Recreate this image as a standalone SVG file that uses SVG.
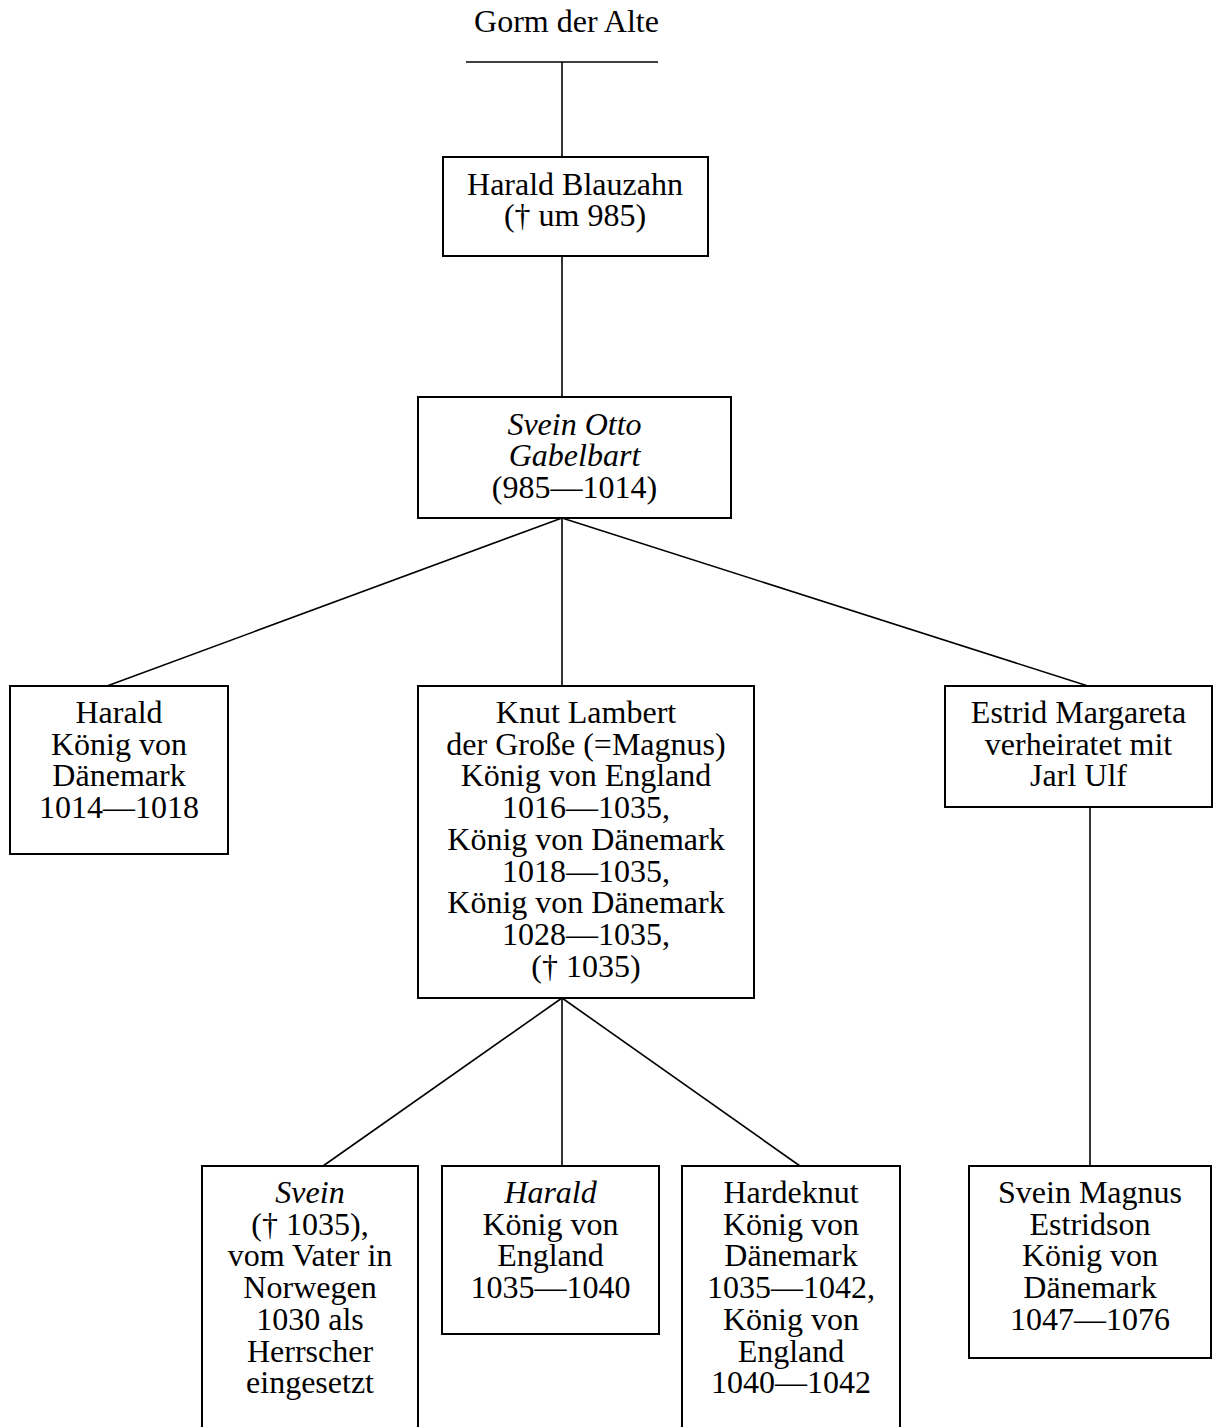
<svg xmlns="http://www.w3.org/2000/svg" width="1214" height="1427" viewBox="0 0 1214 1427">
<style>
text{font-family:"Liberation Serif","Times New Roman",serif;font-size:32px;fill:#000;text-anchor:middle}
.i{font-style:italic}
rect{fill:#fff;stroke:#000;stroke-width:2}
#connectors line{stroke:#000;stroke-width:1.6}
</style>
<rect x="0" y="0" width="1214" height="1427" style="stroke:none;fill:#fff"/>
<g id="connectors">
<line x1="466" y1="62" x2="658" y2="62"/>
<line x1="562" y1="62" x2="562" y2="157"/>
<line x1="562" y1="256" x2="562" y2="397"/>
<line x1="562" y1="518" x2="107" y2="686"/>
<line x1="562" y1="518" x2="562" y2="686"/>
<line x1="562" y1="518" x2="1088" y2="686"/>
<line x1="562" y1="998" x2="323" y2="1166"/>
<line x1="562" y1="998" x2="562" y2="1166"/>
<line x1="562" y1="998" x2="800" y2="1166"/>
<line x1="1090" y1="807" x2="1090" y2="1166"/>
</g>
<g id="gorm">
<text x="566.5" y="32">Gorm der Alte</text>
</g>
<g id="harald-blauzahn">
<rect x="443" y="157" width="265" height="99"/>
<text x="575" y="194.5">Harald Blauzahn</text>
<text x="575" y="226.2">(† um 985)</text>
</g>
<g id="svein-otto">
<rect x="418" y="397" width="313" height="121"/>
<text class="i" x="574.5" y="434.5">Svein Otto</text>
<text class="i" x="574.5" y="466.2">Gabelbart</text>
<text x="574.5" y="497.9">(985—1014)</text>
</g>
<g id="harald">
<rect x="10" y="686" width="218" height="168"/>
<text x="119" y="723">Harald</text>
<text x="119" y="754.7">König von</text>
<text x="119" y="786.4">Dänemark</text>
<text x="119" y="818.1">1014—1018</text>
</g>
<g id="knut">
<rect x="418" y="686" width="336" height="312"/>
<text x="586" y="723">Knut Lambert</text>
<text x="586" y="754.7">der Große (=Magnus)</text>
<text x="586" y="786.4">König von England</text>
<text x="586" y="818.1">1016—1035,</text>
<text x="586" y="849.8">König von Dänemark</text>
<text x="586" y="881.5">1018—1035,</text>
<text x="586" y="913.2">König von Dänemark</text>
<text x="586" y="944.9">1028—1035,</text>
<text x="586" y="976.6">(† 1035)</text>
</g>
<g id="estrid">
<rect x="945" y="686" width="267" height="121"/>
<text x="1078.5" y="723">Estrid Margareta</text>
<text x="1078.5" y="754.7">verheiratet mit</text>
<text x="1078.5" y="786.4">Jarl Ulf</text>
</g>
<g id="svein">
<rect x="202" y="1166" width="216" height="280"/>
<text class="i" x="310" y="1203">Svein</text>
<text x="310" y="1234.7">(† 1035),</text>
<text x="310" y="1266.4">vom Vater in</text>
<text x="310" y="1298.1">Norwegen</text>
<text x="310" y="1329.8">1030 als</text>
<text x="310" y="1361.5">Herrscher</text>
<text x="310" y="1393.2">eingesetzt</text>
</g>
<g id="harald-england">
<rect x="442" y="1166" width="217" height="168"/>
<text class="i" x="550.5" y="1203">Harald</text>
<text x="550.5" y="1234.7">König von</text>
<text x="550.5" y="1266.4">England</text>
<text x="550.5" y="1298.1">1035—1040</text>
</g>
<g id="hardeknut">
<rect x="682" y="1166" width="218" height="280"/>
<text x="791" y="1203">Hardeknut</text>
<text x="791" y="1234.7">König von</text>
<text x="791" y="1266.4">Dänemark</text>
<text x="791" y="1298.1">1035—1042,</text>
<text x="791" y="1329.8">König von</text>
<text x="791" y="1361.5">England</text>
<text x="791" y="1393.2">1040—1042</text>
</g>
<g id="svein-magnus">
<rect x="969" y="1166" width="242" height="192"/>
<text x="1090" y="1203">Svein Magnus</text>
<text x="1090" y="1234.7">Estridson</text>
<text x="1090" y="1266.4">König von</text>
<text x="1090" y="1298.1">Dänemark</text>
<text x="1090" y="1329.8">1047—1076</text>
</g>
</svg>
